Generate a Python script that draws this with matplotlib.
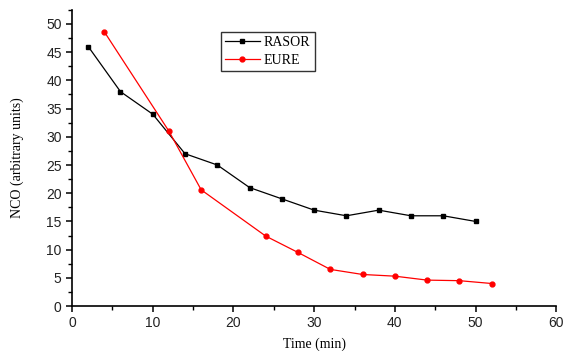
import matplotlib
matplotlib.use('Agg')
import matplotlib.pyplot as plt
from matplotlib.ticker import MultipleLocator

# Data
rasor_time = [2, 6, 10, 14, 18, 22, 26, 30, 34, 38, 42, 46, 50]
rasor_nco = [46, 38, 34, 27, 25, 21, 19, 17, 16, 17, 16, 16, 15]

eure_time = [4, 12, 16, 24, 28, 32, 36, 40, 44, 48, 52]
eure_nco = [48.6, 31, 20.6, 12.4, 9.5, 6.5, 5.6, 5.3, 4.6, 4.5, 4.0]

fig = plt.figure(figsize=(5.63, 3.51), dpi=100)
ax = fig.add_axes([0.128, 0.128, 0.86, 0.844])

ax.plot(rasor_time, rasor_nco, color='black', marker='s', markersize=3.5,
        linewidth=0.9, label='RASOR')
ax.plot(eure_time, eure_nco, color='red', marker='o', markersize=3.5,
        linewidth=0.9, label='EURE')

ax.set_xlim(0, 60)
ax.set_ylim(0, 52.5)
ax.xaxis.set_major_locator(MultipleLocator(10))
ax.xaxis.set_minor_locator(MultipleLocator(5))
ax.yaxis.set_major_locator(MultipleLocator(5))
ax.yaxis.set_minor_locator(MultipleLocator(2.5))

for side in ['top', 'right']:
    ax.spines[side].set_visible(False)
for side in ['left', 'bottom']:
    ax.spines[side].set_linewidth(1.2)

ax.tick_params(which='major', direction='out', length=4, width=1.1,
               labelsize=10)
ax.tick_params(which='minor', direction='out', length=3, width=1.0)
for lbl in ax.get_xticklabels() + ax.get_yticklabels():
    lbl.set_fontfamily('Liberation Sans')
    lbl.set_color('#222222')

ax.set_xlabel('Time (min)', fontfamily='Liberation Serif', fontsize=10,
              labelpad=5)
ax.set_ylabel('NCO (arbitrary units)', fontfamily='Liberation Serif',
              fontsize=10, labelpad=16)

leg = ax.legend(loc='upper left', bbox_to_anchor=(0.293, 0.948),
                prop={'family': 'Liberation Serif', 'size': 10},
                frameon=True, fancybox=False, edgecolor='black',
                borderpad=0.3, handlelength=2.5, labelspacing=0.35,
                handletextpad=0.3)
leg.get_frame().set_linewidth(1.0)

fig.savefig('out.png', dpi=100)
